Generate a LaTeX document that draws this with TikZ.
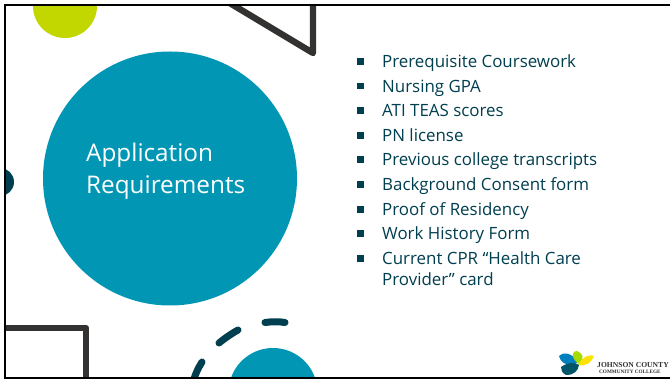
\documentclass[tikz,border=0pt]{standalone}
\usepackage{fontspec}
\setmainfont{Open Sans}
\newfontfamily\logofont{Liberation Serif}
\definecolor{teal}{HTML}{0096B4}
\definecolor{deep}{HTML}{003F50}
\definecolor{lime}{HTML}{C2D600}
\definecolor{ink}{HTML}{333231}
\tikzset{
  outline/.style={draw=ink,line width=6.4pt,line join=round,line cap=round},
  dashpiece/.style={draw=deep,line width=7pt,line cap=round},
  item/.style={anchor=base west,text=deep,font=\fontsize{16.9}{20}\selectfont,inner sep=0pt},
  bullet/.style={fill=deep,minimum size=6.5pt,inner sep=0pt,draw=none},
  heading/.style={anchor=base west,text=white,font=\fontsize{24.3}{32}\selectfont,inner sep=0pt}
}
\begin{document}
\begin{tikzpicture}[x=1pt,y=-1pt]
\useasboundingbox (0,0) rectangle (670,379);
\fill[white] (0,0) rectangle (670,379);
\begin{scope}
\clip (5,6) rectangle (670,378);
\fill[lime] (65,6) circle (32);
\draw[outline] (228,2) -- (313,53) -- (313,2);
\draw[outline] (0,328) -- (86,328) -- (86,385);
\fill[teal] (273,392.5) circle (44.5);
\draw[dashpiece] (265,322.5) .. controls (272,321.5) and (279,321.5) .. (285,322.5);
\draw[dashpiece] (219,343) .. controls (225,338) and (231,334) .. (238,330);
\draw[dashpiece] (202,362) .. controls (198,368) and (195,375) .. (192,385);
\fill[deep] (0,182) circle (14);
\end{scope}
\fill[teal] (170,178.5) circle (127);
\draw[black,line width=2pt] (670,5.5) -- (5,5.5) -- (5,378) -- (670,378);
\node[heading] (t1) at (86,162) {Application};
\node[heading] (t2) at (86,194) {Requirements};
\foreach \n/\y/\s in {a/67.8/Prerequisite Coursework,b/92.3/Nursing GPA,c/116.8/ATI TEAS scores,d/141.8/PN license,e/165.8/Previous college transcripts,f/190.8/Background Consent form,g/215.8/Proof of Residency,h/239.8/Work History Form,i/264.8/Current CPR “Health Care}{
  \node[item] (\n) at (382,\y) {\s};
  \node[bullet] at (360.5,\y-6.5) {};
}
\node[item] (j) at (382,285.8) {Provider” card};
% logo
\fill[teal!85!blue] (578,362) .. controls (572,352) and (562,352) .. (559,356) .. controls (561,364) and (570,368) .. (578,362);
\fill[lime!85!green] (579,364) .. controls (570,358) and (572,350) .. (577,351) .. controls (582,353) and (586,358) .. (579,364);
\fill[yellow!85!orange] (578,365) .. controls (583,356) and (590,354) .. (594,356) .. controls (592,362) and (586,367) .. (578,365);
\fill[deep!75!teal] (561,367) .. controls (568,362) and (576,362) .. (579,365) .. controls (578,371) and (574,375) .. (566,375) .. controls (562,373) and (561,370) .. (561,367);
\node[anchor=base west,text=ink,font=\logofont\bfseries\fontsize{7.6}{8}\selectfont,inner sep=0pt] (l1) at (597,368) {JOHNSON COUNTY};
\node[anchor=base west,text=ink,font=\logofont\bfseries\fontsize{5.2}{6}\selectfont,inner sep=0pt] (l2) at (599,373.5) {COMMUNITY COLLEGE};
\end{tikzpicture}
\end{document}
